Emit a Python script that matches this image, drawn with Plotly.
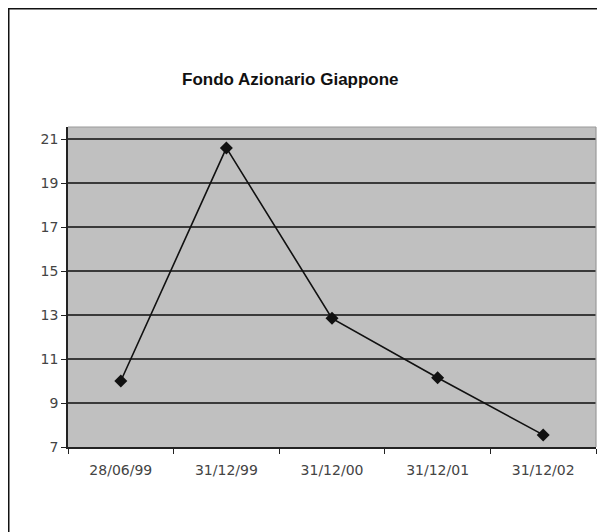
import plotly.graph_objects as go

title_text = "Fondo Azionario Giappone"
dates = ["28/06/99", "31/12/99", "31/12/00", "31/12/01", "31/12/02"]
values = [10.0, 20.6, 12.85, 10.15, 7.55]
y_ticks = [7, 9, 11, 13, 15, 17, 19, 21]

# the page body has an 8px margin, so the figure starts at page (8, 8)
OFF = 8
W, H = 597, 524
L, T = 68 - OFF, 127 - OFF
R = W - (596 - OFF)
B = H - (447 - OFF)
pw, ph = W - L - R, H - T - B

def px(x_page):
    return (x_page - OFF - L) / pw

def py(y_page):
    return (H - B - (y_page - OFF)) / ph

fig = go.Figure()
fig.add_trace(go.Scatter(
    x=dates, y=values, mode="lines+markers",
    line=dict(color="#111111", width=1.6),
    marker=dict(symbol="diamond", size=10, color="#111111"),
    showlegend=False, hoverinfo="skip",
))

fig.update_layout(
    width=W, height=H,
    margin=dict(l=L, r=R, t=T, b=B),
    paper_bgcolor="white",
    plot_bgcolor="#c0c0c0",
    font=dict(family="DejaVu Sans", size=14, color="#444444"),
    xaxis=dict(
        type="category", range=[-0.5, len(dates) - 0.5],
        tickson="boundaries", ticks="outside", ticklen=5,
        tickcolor="#222222", showgrid=False, showline=True, linecolor="#222222",
        linewidth=1.5, mirror=False, tickfont=dict(size=14, color="#444444"),
        ticklabelstandoff=9, fixedrange=True,
    ),
    yaxis=dict(
        range=[7, 21.55], tickvals=y_ticks, ticktext=[str(v) for v in y_ticks],
        ticks="outside", ticklen=5, tickcolor="#222222",
        showgrid=True, gridcolor="#3a3a3a", gridwidth=2,
        showline=True, linecolor="#222222", linewidth=1.5,
        zeroline=False, tickfont=dict(size=14, color="#444444"),
        fixedrange=True,
    ),
    shapes=[
        dict(type="rect", xref="paper", yref="paper",
             x0=px(OFF + 0.75), x1=px(700), y0=py(700), y1=py(OFF + 0.75),
             line=dict(color="#111111", width=1.5), fillcolor="rgba(0,0,0,0)", layer="above"),
        dict(type="line", xref="paper", yref="paper", x0=0, x1=1, y0=1, y1=1,
             line=dict(color="#9a9a9a", width=1.2)),
        dict(type="line", xref="paper", yref="paper", x0=1, x1=1, y0=0, y1=1,
             line=dict(color="#9a9a9a", width=1.2)),
    ],
    annotations=[
        dict(text=title_text, xref="paper", yref="paper", x=px(290), y=py(79),
             xanchor="center", yanchor="middle", showarrow=False,
             font=dict(family="Liberation Sans", size=17, color="#111111", weight="bold")),
    ],
)

fig.write_html("out.html")
